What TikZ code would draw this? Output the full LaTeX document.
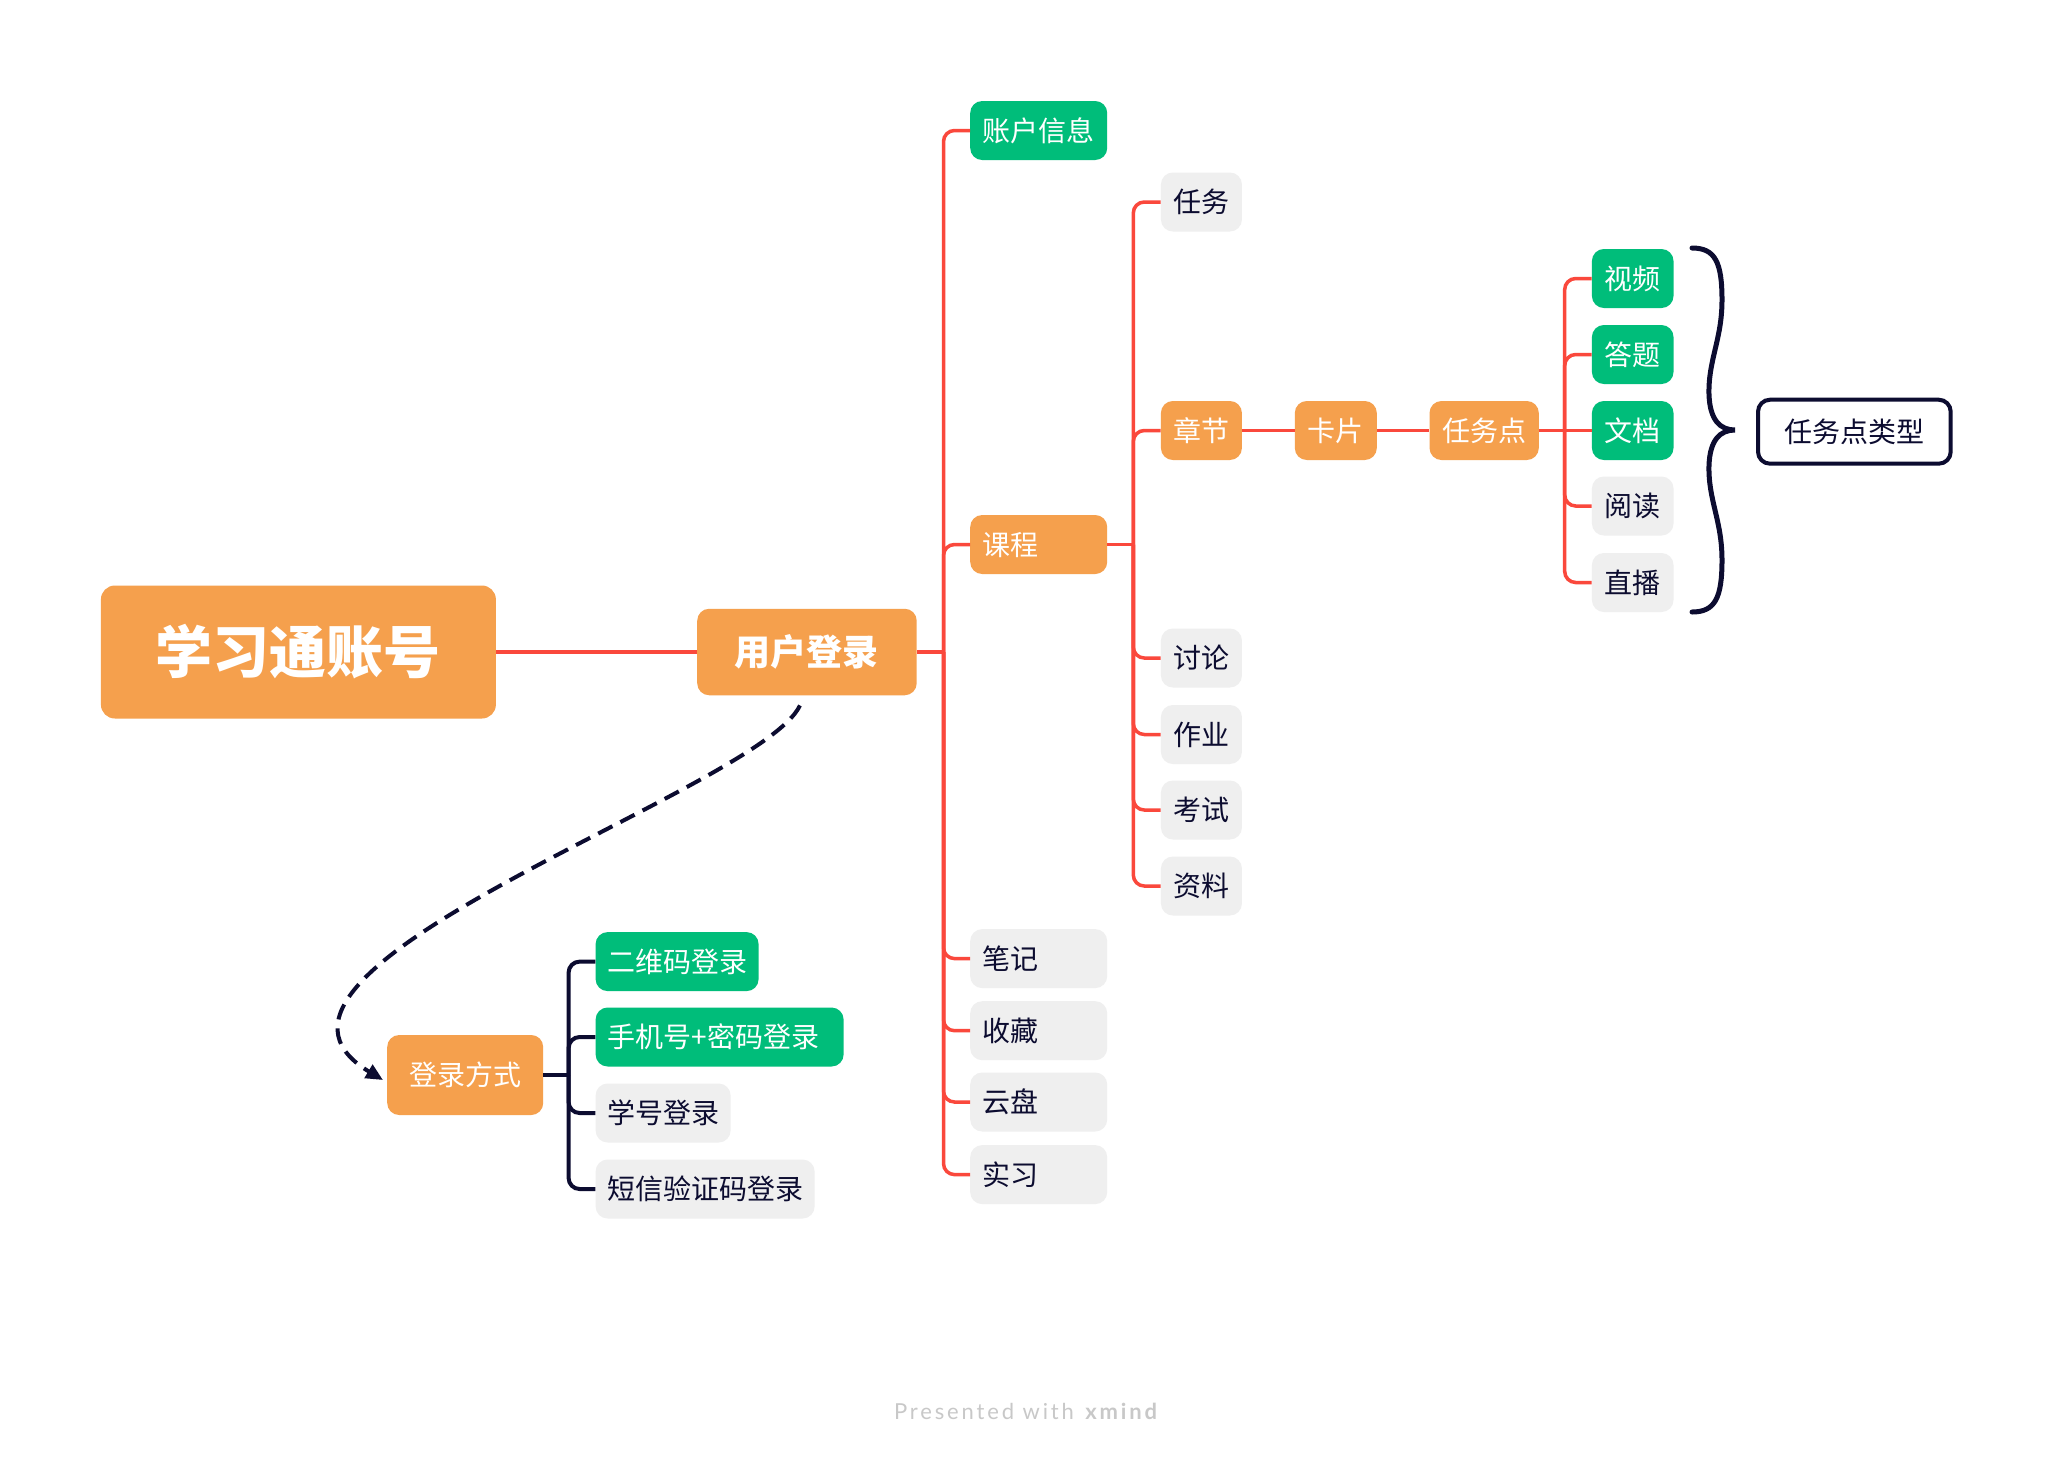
\documentclass[tikz,border=0pt]{standalone}
\usepackage{fontspec}
\setmainfont{Noto Sans CJK SC}
\newfontfamily\footfont{Lato}[LetterSpace=13]
\usetikzlibrary{arrows.meta}
\definecolor{xorange}{RGB}{245,160,77}
\definecolor{xgreen}{RGB}{0,189,122}
\definecolor{xgray}{RGB}{239,239,239}
\definecolor{xred}{RGB}{250,72,60}
\definecolor{xdark}{RGB}{12,12,48}
\definecolor{xfoot}{RGB}{200,200,200}
\newcommand{\lefttext}[2]{\hbox to #1{#2\hfil}}
\begin{document}
\begin{tikzpicture}[x=1pt,y=-1pt,
  box/.style={rounded corners=12pt, inner xsep=12pt, inner ysep=0pt, anchor=west,
    font=\fontsize{28}{28}\selectfont, text height=24.6pt, text depth=3.4pt,
    minimum height=59pt},
  obox/.style={box, fill=xorange, text=white},
  gbox/.style={box, fill=xgreen, text=white},
  ybox/.style={box, fill=xgray, text=xdark},
  lvthree/.style={minimum width=81pt},
  lvfive/.style={minimum width=81.6pt},
  redline/.style={draw=xred, line width=3.5pt, rounded corners=11pt},
  darkline/.style={draw=xdark, line width=4pt, rounded corners=11pt},
  rel/.style={draw=xdark, line width=4pt, dash pattern=on 16pt off 9pt, -{Triangle[length=17pt,width=15pt]}},
]
\useasboundingbox (0,0) rectangle (2050,1460);
\fill[white] (0,0) rectangle (2050,1460);

% nodes
\node[obox, rounded corners=14pt, minimum height=133pt, minimum width=395pt,
  text height=50.2pt, text depth=6.8pt,
  font=\fontsize{57}{57}\selectfont\bfseries] (root) at (100.7,652) {学习通账号};
\node[obox, minimum height=86.5pt, minimum width=219.5pt,
  text height=31.7pt, text depth=4.3pt,
  font=\fontsize{36}{36}\selectfont\bfseries] (login) at (697,652) {用户登录};

\node[gbox] (acct) at (970,130.5) {\lefttext{113pt}{账户信息}};
\node[obox] (course) at (970,544.5) {\lefttext{113pt}{课程}};
\node[ybox] (note) at (970,958.6) {\lefttext{113pt}{笔记}};
\node[ybox] (fav) at (970,1030.7) {\lefttext{113pt}{收藏}};
\node[ybox] (cloud) at (970,1102) {\lefttext{113pt}{云盘}};
\node[ybox] (intern) at (970,1174.6) {\lefttext{113pt}{实习}};

\node[ybox, lvthree] (task) at (1160.7,202) {任务};
\node[obox, lvthree] (chap) at (1160.7,430.5) {章节};
\node[ybox, lvthree] (disc) at (1160.7,658) {讨论};
\node[ybox, lvthree] (hw) at (1160.7,734.5) {作业};
\node[ybox, lvthree] (exam) at (1160.7,810) {考试};
\node[ybox, lvthree] (mat) at (1160.7,886) {资料};

\node[obox, minimum width=82pt] (card) at (1294.6,430.5) {卡片};
\node[obox, minimum width=109.3pt] (tp) at (1429.3,430.5) {任务点};

\node[gbox, lvfive] (video) at (1591.7,278.5) {视频};
\node[gbox, lvfive] (quiz) at (1591.7,354.5) {答题};
\node[gbox, lvfive] (doc) at (1591.7,430.5) {文档};
\node[ybox, lvfive] (read) at (1591.7,506) {阅读};
\node[ybox, lvfive] (live) at (1591.7,582.5) {直播};

\node[box, fill=white, draw=xdark, line width=4pt, text=xdark, minimum height=64pt,
  minimum width=192.7pt] (tptype) at (1756,431.7) {任务点类型};

\node[obox, minimum height=80pt, minimum width=156pt] (way) at (387,1075) {登录方式};
\node[gbox] (qr) at (595.4,961.6) {\lefttext{139pt}{二维码登录}};
\node[gbox] (phone) at (595.4,1037) {\lefttext{224pt}{手机号+密码登录}};
\node[ybox] (sid) at (595.4,1113) {\lefttext{111pt}{学号登录}};
\node[ybox] (sms) at (595.4,1189) {\lefttext{195pt}{短信验证码登录}};

\node[font=\footfont\fontsize{22}{22}\selectfont, text=xfoot] (foot) at (1027,1411)
  {Presented with \textbf{xmind}};

% connectors
\draw[redline] (root.east) -- (login.west);
\coordinate (t1) at (943.5,652);
\draw[redline] (login.east) -- (t1);
\foreach \c in {acct,course,note,fav,cloud,intern} \draw[redline] (t1) |- (\c.west);

\coordinate (t2) at (1133.3,544.5);
\draw[redline] (course.east) -- (t2);
\foreach \c in {task,chap,disc,hw,exam,mat} \draw[redline] (t2) |- (\c.west);

\draw[redline] (chap.east) -- (card.west);
\draw[redline] (card.east) -- (tp.west);

\coordinate (t3) at (1564.7,430.5);
\draw[redline] (tp.east) -- (t3);
\draw[redline] (t3) -- (doc.west);
\foreach \c in {video,quiz,read,live} \draw[redline] (t3) |- (\c.west);

\coordinate (t4) at (568.6,1075);
\draw[darkline] (way.east) -- (t4);
\foreach \c in {qr,phone,sid,sms} \draw[darkline] (t4) |- (\c.west);

% relationship
\coordinate (rs) at ([shift={(-7,10)}]login.south);
\coordinate (re) at ([shift={(-4,5)}]way.west);
\draw[rel] (rs) .. controls +(-40,85) and +(-183,-110) .. (re);

% summary brace
\draw[xdark, line width=5pt, line cap=round]
  (1692,248) .. controls (1715,248) and (1722,262) .. (1722,300)
  .. controls (1722,340) and (1708,360) .. (1709,395)
  .. controls (1710,420) and (1720,430) .. (1735,430)
  .. controls (1720,430) and (1710,440) .. (1709,465)
  .. controls (1708,500) and (1722,520) .. (1722,560)
  .. controls (1722,598) and (1715,612) .. (1692,612);
\end{tikzpicture}
\end{document}
